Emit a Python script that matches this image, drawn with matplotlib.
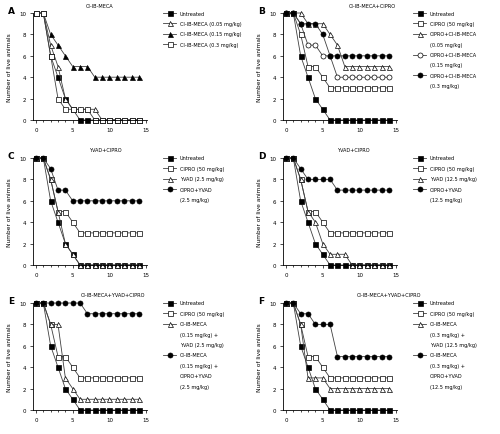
import matplotlib
matplotlib.use('Agg')
import matplotlib.pyplot as plt
from matplotlib.lines import Line2D

plt.rcParams['font.family'] = ['DejaVu Sans']

days = list(range(15))
untreated = [10, 10, 6, 4, 2, 1, 0, 0, 0, 0, 0, 0, 0, 0, 0]
cipro = [10, 10, 8, 5, 5, 4, 3, 3, 3, 3, 3, 3, 3, 3, 3]

# A
a_005 = [10, 10, 7, 5, 2, 1, 1, 1, 1, 0, 0, 0, 0, 0, 0]
a_015 = [10, 10, 8, 7, 6, 5, 5, 5, 4, 4, 4, 4, 4, 4, 4]
a_03 = [10, 10, 6, 2, 1, 1, 1, 1, 0, 0, 0, 0, 0, 0, 0]
# B
b_005 = [10, 10, 10, 9, 9, 9, 8, 7, 5, 5, 5, 5, 5, 5, 5]
b_015 = [10, 10, 9, 7, 7, 6, 6, 4, 4, 4, 4, 4, 4, 4, 4]
b_03 = [10, 10, 9, 9, 9, 8, 6, 6, 6, 6, 6, 6, 6, 6, 6]
# C
c_yvad = [10, 10, 8, 5, 2, 1, 0, 0, 0, 0, 0, 0, 0, 0, 0]
c_combo = [10, 10, 9, 7, 7, 6, 6, 6, 6, 6, 6, 6, 6, 6, 6]
# D
d_yvad = [10, 10, 8, 5, 4, 2, 1, 1, 1, 0, 0, 0, 0, 0, 0]
d_combo = [10, 10, 9, 8, 8, 8, 8, 7, 7, 7, 7, 7, 7, 7, 7]
# E
e_mix = [10, 10, 8, 8, 3, 2, 1, 1, 1, 1, 1, 1, 1, 1, 1]
e_combo = [10, 10, 10, 10, 10, 10, 10, 9, 9, 9, 9, 9, 9, 9, 9]
# F
f_mix = [10, 10, 8, 3, 3, 3, 2, 2, 2, 2, 2, 2, 2, 2, 2]
f_combo = [10, 10, 9, 9, 8, 8, 8, 5, 5, 5, 5, 5, 5, 5, 5]

SQ_F = ('s', 'black')
SQ_O = ('s', 'white')
TR_F = ('^', 'black')
TR_O = ('^', 'white')
CI_F = ('o', 'black')
CI_O = ('o', 'white')

panels = [
    ('A', 'Cl-IB-MECA', 100, [
        (untreated, SQ_F, 'Untreated'),
        (a_005, TR_O, 'Cl-IB-MECA (0.05 mg/kg)'),
        (a_015, TR_F, 'Cl-IB-MECA (0.15 mg/kg)'),
        (a_03, SQ_O, 'Cl-IB-MECA (0.3 mg/kg)')]),
    ('B', 'Cl-IB-MECA+CIPRO', 372, [
        (untreated, SQ_F, 'Untreated'),
        (cipro, SQ_O, 'CIPRO (50 mg/kg)'),
        (b_005, TR_O, 'CIPRO+Cl-IB-MECA\n(0.05 mg/kg)'),
        (b_015, CI_O, 'CIPRO+Cl-IB-MECA\n(0.15 mg/kg)'),
        (b_03, CI_F, 'CIPRO+Cl-IB-MECA\n(0.3 mg/kg)')]),
    ('C', 'YVAD+CIPRO', 105, [
        (untreated, SQ_F, 'Untreated'),
        (cipro, SQ_O, 'CIPRO (50 mg/kg)'),
        (c_yvad, TR_O, 'YVAD (2.5 mg/kg)'),
        (c_combo, CI_F, 'CIPRO+YVAD\n(2.5 mg/kg)')]),
    ('D', 'YVAD+CIPRO', 353, [
        (untreated, SQ_F, 'Untreated'),
        (cipro, SQ_O, 'CIPRO (50 mg/kg)'),
        (d_yvad, TR_O, 'YVAD (12.5 mg/kg)'),
        (d_combo, CI_F, 'CIPRO+YVAD\n(12.5 mg/kg)')]),
    ('E', 'Cl-IB-MECA+YVAD+CIPRO', 113, [
        (untreated, SQ_F, 'Untreated'),
        (cipro, SQ_O, 'CIPRO (50 mg/kg)'),
        (e_mix, TR_O, 'Cl-IB-MECA\n(0.15 mg/kg) +\nYVAD (2.5 mg/kg)'),
        (e_combo, CI_F, 'Cl-IB-MECA\n(0.15 mg/kg) +\nCIPRO+YVAD\n(2.5 mg/kg)')]),
    ('F', 'Cl-IB-MECA+YVAD+CIPRO', 389, [
        (untreated, SQ_F, 'Untreated'),
        (cipro, SQ_O, 'CIPRO (50 mg/kg)'),
        (f_mix, TR_O, 'Cl-IB-MECA\n(0.3 mg/kg) +\nYVAD (12.5 mg/kg)'),
        (f_combo, CI_F, 'Cl-IB-MECA\n(0.3 mg/kg) +\nCIPRO+YVAD\n(12.5 mg/kg)')]),
]

W, H = 500, 435
fig = plt.figure(figsize=(5, 4.35), dpi=100)


def fx(px):
    return px / W


def fy(py):
    return 1 - py / H


LW = 0.6
LC = '0.25'
MS = 3.6

for i, (letter, title, tx, series) in enumerate(panels):
    col, row = i % 2, i // 2
    ox = 250 * col
    oy = 145 * row
    ax = fig.add_axes([fx(33 + ox), fy(121 + oy), 114 / W, 107 / H])
    for vals, (mk, fc), lab in series:
        ax.plot(days, vals, color=LC, lw=LW, marker=mk, ms=MS,
                mfc=fc, mec='black', mew=0.5, clip_on=False)
    ax.set_xlim(-0.4, 15.1)
    ax.set_ylim(0, 10)
    ax.set_xticks([0, 5, 10, 15])
    ax.set_xticks(range(16), minor=True)
    ax.set_yticks(range(0, 11, 2))
    for s in ['top', 'right']:
        ax.spines[s].set_visible(False)
    for s in ['left', 'bottom']:
        ax.spines[s].set_linewidth(0.6)
    ax.tick_params(labelsize=4, length=2, width=0.5, pad=3)
    ax.tick_params(which='minor', length=1.5, width=0.5)
    ax.set_ylabel('Number of live animals', fontsize=4.2, labelpad=5)

    fig.text(fx(ox + 8), fy(oy + 12), letter, fontsize=6.5, fontweight='bold',
             va='center', ha='left')
    fig.text(fx(tx), fy(oy + 6), title, fontsize=3.6, ha='center', va='center')

    # legend drawn by hand so handles line up with the first label line
    lx = 163 + ox
    ly = 14 + oy
    for vals, (mk, fc), lab in series:
        fig.add_artist(Line2D([fx(lx), fx(lx + 13)], [fy(ly), fy(ly)],
                              transform=fig.transFigure, color=LC, lw=LW))
        fig.add_artist(Line2D([fx(lx + 6.5)], [fy(ly)], transform=fig.transFigure,
                              marker=mk, ms=MS, mfc=fc, mec='black', mew=0.5,
                              linestyle='none'))
        for line in lab.split('\n'):
            fig.text(fx(lx + 17), fy(ly), line, fontsize=3.6, va='center', ha='left')
            ly += 10.4

fig.savefig('out.png', dpi=100)
